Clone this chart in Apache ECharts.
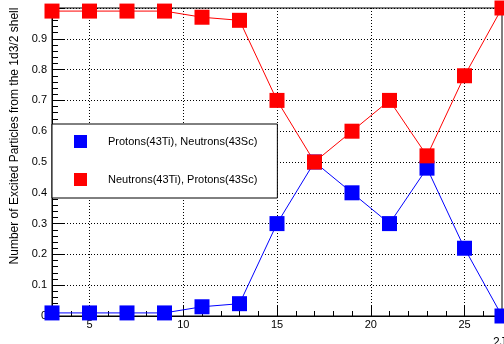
<!DOCTYPE html>
<html>
<head>
<meta charset="utf-8">
<script src="https://cdn.jsdelivr.net/npm/echarts@6/dist/echarts.min.js"></script>
<style>
  html, body { margin: 0; padding: 0; background: #fff; }
  #chart { width: 504px; height: 344px; }
</style>
</head>
<body>
<div id="chart"></div>
<script>
// 2J values on the x axis
var spins = [3, 5, 7, 9, 11, 13, 15, 17, 19, 21, 23, 25, 27];
var protonsTi = [0.01, 0.01, 0.01, 0.01, 0.03, 0.04, 0.30, 0.50, 0.40, 0.30, 0.48, 0.22, 0.00];
var neutronsTi = [0.99, 0.99, 0.99, 0.99, 0.97, 0.96, 0.70, 0.50, 0.60, 0.70, 0.52, 0.78, 1.00];
var xMajorTicks = [5, 10, 15, 20, 25];
var seriesNames = ['Protons(43Ti), Neutrons(43Sc)', 'Neutrons(43Ti), Protons(43Sc)'];

function pairs(xs, ys) {
    var out = [];
    for (var i = 0; i < xs.length; i++) {
        out.push([xs[i], ys[i]]);
    }
    return out;
}

var font = 'Liberation Sans, Arial, sans-serif';
var dotted = { color: '#000', width: 1, type: [1, 2] };

var myChart = echarts.init(document.getElementById('chart'));
var option = {
    animation: false,
    grid: {
        left: 52, right: 2, top: 8, bottom: 28,
        outerBoundsMode: 'none',
        containLabel: false,
        show: true, borderColor: '#000', borderWidth: 1
    },
    legend: {
        orient: 'vertical',
        left: 52, top: 124,
        padding: [11, 20, 12, 22],
        itemWidth: 13, itemHeight: 13, itemGap: 25,
        icon: 'rect',
        backgroundColor: '#fff',
        borderColor: '#000', borderWidth: 1,
        textStyle: { fontFamily: font, fontSize: 11, color: '#000', padding: [0, 0, 0, 16] },
        data: seriesNames
    },
    xAxis: [{
        type: 'value',
        min: 3, max: 27,
        name: '2J',
        nameLocation: 'end',
        nameGap: -9,
        nameTextStyle: { fontFamily: font, fontSize: 12, color: '#000', align: 'left', verticalAlign: 'top', padding: [21, 0, 0, 0] },
        axisLine: { lineStyle: { color: '#000', width: 1 } },
        axisTick: { inside: true, length: 10, customValues: xMajorTicks, lineStyle: { color: '#000' } },
        axisLabel: { customValues: xMajorTicks, margin: 3, fontFamily: font, fontSize: 11, color: '#000' },
        splitLine: { show: true, lineStyle: dotted }
    }, {
        // minor ticks every unit of 2J
        type: 'value',
        min: 3, max: 27, interval: 1,
        position: 'bottom',
        axisLine: { show: false },
        axisTick: { inside: true, length: 5, lineStyle: { color: '#000' } },
        axisLabel: { show: false },
        splitLine: { show: false }
    }],
    yAxis: {
        type: 'value',
        min: 0, max: 1, interval: 0.1,
        name: 'Number of Excited Particles from the 1d3/2 shell',
        nameLocation: 'middle',
        nameRotate: 90,
        nameGap: 28,
        nameTextStyle: { fontFamily: font, fontSize: 12, color: '#000', padding: [0, 0, 0, 52] },
        axisLine: { show: true, lineStyle: { color: '#000', width: 1 } },
        axisTick: { inside: true, length: 12, lineStyle: { color: '#000' } },
        minorTick: { show: true, splitNumber: 5, length: 6, lineStyle: { color: '#000' } },
        axisLabel: { showMaxLabel: false, margin: 5, fontFamily: font, fontSize: 11, color: '#000' },
        splitLine: { show: true, lineStyle: dotted }
    },
    series: [{
        name: seriesNames[0],
        type: 'line',
        xAxisIndex: 0,
        data: pairs(spins, protonsTi),
        symbol: 'rect', symbolSize: 15,
        clip: false,
        itemStyle: { color: '#0000ff' },
        lineStyle: { color: '#0000ff', width: 1 }
    }, {
        name: seriesNames[1],
        type: 'line',
        xAxisIndex: 0,
        data: pairs(spins, neutronsTi),
        symbol: 'rect', symbolSize: 15,
        clip: false,
        itemStyle: { color: '#ff0000' },
        lineStyle: { color: '#ff0000', width: 1 }
    }]
};
myChart.setOption(option);
</script>
</body>
</html>
